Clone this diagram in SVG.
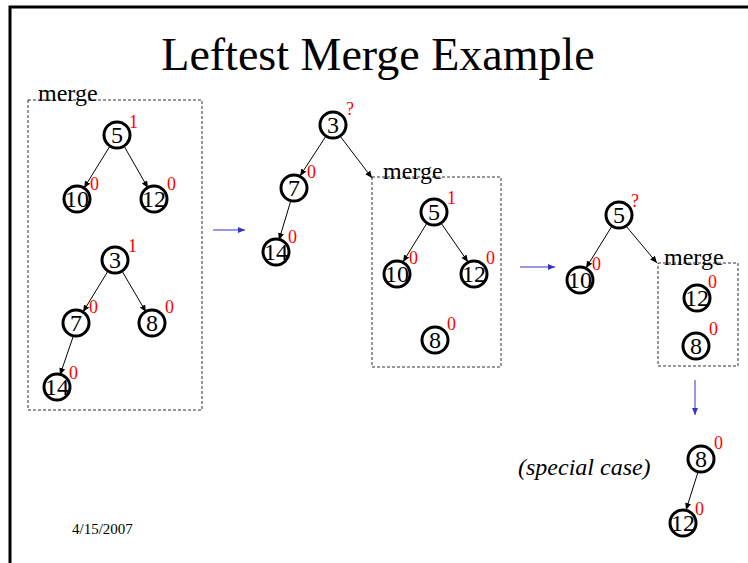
<svg xmlns="http://www.w3.org/2000/svg" width="748" height="563" viewBox="0 0 748 563">
  <style>
    .title { font-family: "Liberation Serif", "Times New Roman", serif; font-size: 46px; fill: #000; }
    .lbl { font-family: "Liberation Serif", "Times New Roman", serif; font-size: 24px; fill: #000; }
    .key { font-family: "Liberation Serif", "Times New Roman", serif; font-size: 24px; fill: #000; text-anchor: middle; }
    .rank { font-family: "Liberation Serif", "Times New Roman", serif; font-size: 18px; fill: #ff0000; }
    .ring { fill: #fff; stroke: #000; stroke-width: 3; }
    .box { fill: none; stroke: #333; stroke-width: 1; stroke-dasharray: 3 2; }
    .edge { stroke: #000; stroke-width: 1; fill: none; marker-end: url(#ah); }
    .step { stroke: #3333cc; stroke-width: 1; fill: none; marker-end: url(#bh); }
  </style>
  <defs>
    <marker id="ah" markerWidth="8" markerHeight="8" refX="7" refY="4" orient="auto" markerUnits="userSpaceOnUse">
      <path d="M0,1 L7,4 L0,7 Z" fill="#000"/>
    </marker>
    <marker id="bh" markerWidth="8" markerHeight="8" refX="7" refY="4" orient="auto" markerUnits="userSpaceOnUse">
      <path d="M0,1 L7,4 L0,7 Z" fill="#3333cc"/>
    </marker>
  </defs>

  <rect width="748" height="563" fill="#fff"/>
  <!-- slide frame -->
  <path d="M10,563 V7 H748" fill="none" stroke="#000" stroke-width="3"/>

  <text class="title" x="378" y="70" text-anchor="middle">Leftest Merge Example</text>

  <!-- dashed merge boxes -->
  <rect class="box" x="28" y="100" width="174" height="310"/>
  <text class="lbl" x="38" y="101">merge</text>
  <rect class="box" x="372" y="177" width="129" height="190"/>
  <text class="lbl" x="383" y="179">merge</text>
  <rect class="box" x="658" y="263" width="80" height="103"/>
  <text class="lbl" x="664" y="265">merge</text>

  <g id="connectors">
    <line class="edge" x1="110" y1="146" x2="84" y2="188"/>
    <line class="edge" x1="124" y1="146" x2="148" y2="188"/>
    <line class="edge" x1="108" y1="271" x2="83" y2="312"/>
    <line class="edge" x1="122" y1="271" x2="146" y2="312"/>
    <line class="edge" x1="73" y1="337" x2="60" y2="375"/>
    <line class="edge" x1="326" y1="136" x2="300" y2="176"/>
    <line class="edge" x1="340" y1="136" x2="372" y2="178"/>
    <line class="edge" x1="291" y1="200" x2="279" y2="240"/>
    <line class="edge" x1="427" y1="223" x2="403" y2="262"/>
    <line class="edge" x1="441" y1="223" x2="468" y2="262"/>
    <line class="edge" x1="612" y1="226" x2="586" y2="268"/>
    <line class="edge" x1="626" y1="226" x2="657" y2="263"/>
    <line class="edge" x1="698" y1="472" x2="686" y2="510"/>
    <line class="step" x1="213" y1="230" x2="245" y2="230"/>
    <line class="step" x1="520" y1="267" x2="555" y2="267"/>
    <line class="step" x1="695" y1="380" x2="695" y2="415"/>
  </g>

  <!-- first merge: left operand -->
  <g id="a5"><circle class="ring" cx="117" cy="135" r="13"/><text class="key" x="117" y="143">5</text><text class="rank" x="129" y="128">1</text></g>
  <g id="a10"><circle class="ring" cx="77" cy="199" r="13"/><text class="key" x="77" y="207">10</text><text class="rank" x="90" y="190">0</text></g>
  <g id="a12"><circle class="ring" cx="154" cy="199" r="13"/><text class="key" x="154" y="207">12</text><text class="rank" x="167" y="190">0</text></g>
  <!-- first merge: right operand -->
  <g id="b3"><circle class="ring" cx="115" cy="260" r="13"/><text class="key" x="115" y="268">3</text><text class="rank" x="128" y="252">1</text></g>
  <g id="b7"><circle class="ring" cx="76" cy="323" r="13"/><text class="key" x="76" y="331">7</text><text class="rank" x="89" y="313">0</text></g>
  <g id="b8"><circle class="ring" cx="152" cy="323" r="13"/><text class="key" x="152" y="331">8</text><text class="rank" x="165" y="313">0</text></g>
  <g id="b14"><circle class="ring" cx="57" cy="387" r="13"/><text class="key" x="57" y="395">14</text><text class="rank" x="69" y="379">0</text></g>

  <!-- second step -->
  <g id="c3"><circle class="ring" cx="333" cy="125" r="13"/><text class="key" x="333" y="133">3</text><text class="rank" x="346" y="115">?</text></g>
  <g id="c7"><circle class="ring" cx="294" cy="188" r="13"/><text class="key" x="294" y="196">7</text><text class="rank" x="307" y="178">0</text></g>
  <g id="c14"><circle class="ring" cx="276" cy="252" r="13"/><text class="key" x="276" y="260">14</text><text class="rank" x="288" y="243">0</text></g>
  <g id="d5"><circle class="ring" cx="434" cy="212" r="13"/><text class="key" x="434" y="220">5</text><text class="rank" x="447" y="204">1</text></g>
  <g id="d10"><circle class="ring" cx="397" cy="274" r="13"/><text class="key" x="397" y="282">10</text><text class="rank" x="409" y="264">0</text></g>
  <g id="d12"><circle class="ring" cx="474" cy="274" r="13"/><text class="key" x="474" y="282">12</text><text class="rank" x="486" y="264">0</text></g>
  <g id="d8"><circle class="ring" cx="435" cy="340" r="13"/><text class="key" x="435" y="348">8</text><text class="rank" x="447" y="330">0</text></g>

  <!-- third step -->
  <g id="e5"><circle class="ring" cx="619" cy="215" r="13"/><text class="key" x="619" y="223">5</text><text class="rank" x="631" y="207">?</text></g>
  <g id="e10"><circle class="ring" cx="580" cy="280" r="13"/><text class="key" x="580" y="288">10</text><text class="rank" x="592" y="270">0</text></g>
  <g id="f12"><circle class="ring" cx="697" cy="298" r="13"/><text class="key" x="697" y="306">12</text><text class="rank" x="708" y="288">0</text></g>
  <g id="f8"><circle class="ring" cx="696" cy="346" r="13"/><text class="key" x="696" y="354">8</text><text class="rank" x="709" y="335">0</text></g>

  <!-- special case result -->
  <g id="g8"><circle class="ring" cx="701" cy="459" r="13"/><text class="key" x="701" y="467">8</text><text class="rank" x="714" y="449">0</text></g>
  <g id="g12"><circle class="ring" cx="683" cy="523" r="13"/><text class="key" x="683" y="531">12</text><text class="rank" x="695" y="515">0</text></g>
  <text class="lbl" x="518" y="475" font-style="italic">(special case)</text>

  <text x="72" y="534" font-family="'Liberation Serif', 'Times New Roman', serif" font-size="15" fill="#000">4/15/2007</text>
</svg>
